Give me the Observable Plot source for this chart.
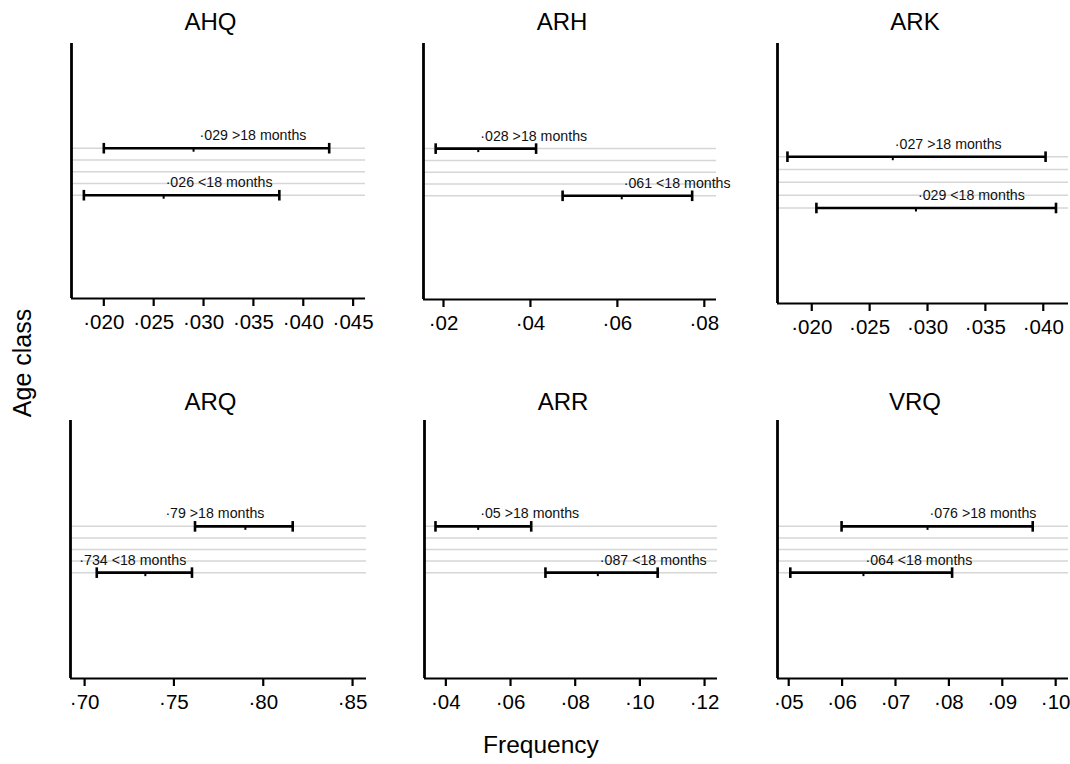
<!DOCTYPE html>
<html><head><meta charset="utf-8">
<script src="https://cdn.jsdelivr.net/npm/d3@7"></script>
<script src="https://cdn.jsdelivr.net/npm/@observablehq/plot@0.6"></script>
<style>
body{margin:0;background:#fff;font-family:"Liberation Sans",Arial,sans-serif;}
#chart{position:relative;width:1070px;height:764px;overflow:hidden;background:#fff}
#chart svg{position:absolute;overflow:visible;background:none;color:#000}
</style></head><body>
<div id="chart"></div>
<script>
// ---- data ----
const genotypes = ["AHQ", "ARH", "ARK", "ARQ", "ARR", "VRQ"];
const ageClasses = [">18 months", "<18 months"];
// estimates: [>18 months, <18 months]
const estOlder   = [0.029, 0.028, 0.027, 0.79,  0.05,  0.076];
const estYounger = [0.026, 0.061, 0.029, 0.734, 0.087, 0.064];
const lowOlder   = [0.0200, 0.0182, 0.0179, 0.7618, 0.0368, 0.0599];
const highOlder  = [0.0426, 0.0413, 0.0402, 0.8165, 0.0664, 0.0957];
const lowYounger = [0.0180, 0.0474, 0.0204, 0.7068, 0.0708, 0.0503];
const highYounger= [0.0376, 0.0772, 0.0411, 0.7601, 0.1055, 0.0806];
const tickValues = [
  [0.020, 0.025, 0.030, 0.035, 0.040, 0.045],
  [0.02, 0.04, 0.06, 0.08],
  [0.020, 0.025, 0.030, 0.035, 0.040],
  [0.70, 0.75, 0.80, 0.85],
  [0.04, 0.06, 0.08, 0.10, 0.12],
  [0.05, 0.06, 0.07, 0.08, 0.09, 0.10]
];
const tickDecimals = [3, 2, 3, 2, 2, 2];
const xDomains = [
  [0.01676, 0.04624], [0.0154, 0.0828], [0.01704, 0.04218],
  [0.6921, 0.8578], [0.0334, 0.1240], [0.0479, 0.1024]
];
const gridLevels = [1, 2, 3, 4, 5];
const ageLevels = [5, 1];

// ---- layout ----
const frames = [
  {l: 71, r: 365, t: 43, b: 298, yd: [-7.79, 13.91], tdy: -14},
  {l: 423, r: 716, t: 43, b: 299, yd: [-7.79, 13.91], tdy: -14},
  {l: 777, r: 1068, t: 43, b: 303, yd: [-6.45, 13.83], tdy: -14},
  {l: 70, r: 366, t: 420, b: 678, yd: [-8.15, 14.15], tdy: -11},
  {l: 424, r: 717, t: 420, b: 678, yd: [-8.15, 14.15], tdy: -11},
  {l: 777, r: 1068, t: 420, b: 678, yd: [-8.15, 14.15], tdy: -11}
];
const labelDx = {ARQ: [-80, -66], AHQ: [6, 2]};

const capSym = {draw(ctx, size){const r = Math.sqrt(size/Math.PI); ctx.moveTo(0,-r); ctx.lineTo(0,r);}};
const estSym = {draw(ctx, size){const r = Math.sqrt(size/Math.PI); ctx.moveTo(0,0); ctx.lineTo(0,r);}};

const chart = document.getElementById("chart");
const fmtLabel = v => String(v).replace(/^0\./, "·");

genotypes.forEach((g, i) => {
  const f = frames[i];
  const mL = 60, mR = 14, mT = f.t < 100 ? 43 : 40, mB = 45;
  const rows = ageClasses.map((a, k) => ({
    age: a,
    pos: ageLevels[k],
    est: k === 0 ? estOlder[i] : estYounger[i],
    lo: k === 0 ? lowOlder[i] : lowYounger[i],
    hi: k === 0 ? highOlder[i] : highYounger[i]
  }));
  rows.forEach(d => d.label = fmtLabel(d.est) + " " + d.age);
  const dxs = labelDx[g] || [2, 2];
  const p = Plot.plot({
    width: mL + (f.r - f.l) + mR,
    height: mT + (f.b - f.t) + mB,
    marginLeft: mL, marginRight: mR, marginTop: mT, marginBottom: mB,
    style: {fontFamily: '"Liberation Sans", Arial, sans-serif', background: "none", overflow: "visible", color: "#000"},
    x: {domain: xDomains[i], axis: null},
    y: {domain: f.yd, axis: null},
    marks: [
      Plot.ruleY(gridLevels, {stroke: "#d6d6d6", strokeWidth: 1.5}),
      Plot.ruleX([xDomains[i][0]], {stroke: "#000", strokeWidth: 2.8}),
      Plot.ruleY([f.yd[0]], {stroke: "#000", strokeWidth: 2.2}),
      Plot.axisX({ticks: tickValues[i], tickFormat: d => d.toFixed(tickDecimals[i]).replace(/^0\./, "·"),
        tickSize: 8, tickPadding: 8, fontSize: 20.5, strokeWidth: 2.2, label: null}),
      Plot.ruleY(rows, {x1: "lo", x2: "hi", y: "pos", stroke: "#000", strokeWidth: 2.6}),
      Plot.dot(rows, {x: "lo", y: "pos", symbol: capSym, r: 5.3, stroke: "#000", fill: "none", strokeWidth: 2.6}),
      Plot.dot(rows, {x: "hi", y: "pos", symbol: capSym, r: 5.3, stroke: "#000", fill: "none", strokeWidth: 2.6}),
      Plot.dot(rows, {x: "est", y: "pos", symbol: estSym, r: 3.5, stroke: "#000", fill: "none", strokeWidth: 2}),
      ...rows.map((d, k) => Plot.text([d], {x: "est", y: "pos", text: "label", textAnchor: "start",
        lineAnchor: "bottom", dx: dxs[k], dy: -8, fontSize: 14.2, fill: "#111"})),
      Plot.text([g], {frameAnchor: "top", text: d => d, lineAnchor: "bottom", dy: f.tdy, dx: -8, fontSize: 24, fill: "#000"})
    ]
  });
  p.style.left = (f.l - mL) + "px";
  p.style.top = (f.t - mT) + "px";
  chart.appendChild(p);
});

// axis titles
const ns = "http://www.w3.org/2000/svg";
const ov = document.createElementNS(ns, "svg");
ov.setAttribute("width", 1070); ov.setAttribute("height", 764);
ov.style.left = "0px"; ov.style.top = "0px";
ov.innerHTML = `<text transform="translate(31,363) rotate(-90)" text-anchor="middle" font-size="25" font-family="Liberation Sans, Arial, sans-serif" fill="#000">Age class</text>
<text x="541" y="753" text-anchor="middle" font-size="24.5" font-family="Liberation Sans, Arial, sans-serif" fill="#000">Frequency</text>`;
chart.appendChild(ov);
</script>
</body></html>
